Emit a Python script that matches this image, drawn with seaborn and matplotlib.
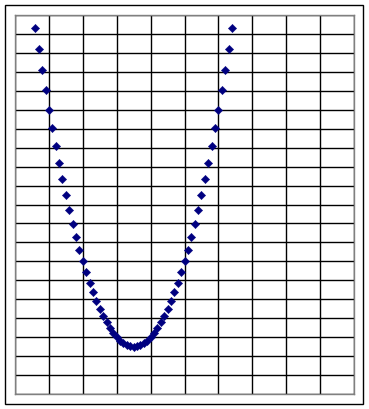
import matplotlib.pyplot as plt
import matplotlib.patches as patches
import seaborn as sns
import pandas as pd

sns.set_style("white")

# points (x step 0.1, one grid cell = 1 unit)
x_vals = [-4.4, -4.3, -4.2, -4.1, -4.0, -3.9, -3.8, -3.7, -3.6, -3.5,
          -3.4, -3.3, -3.2, -3.1, -3.0, -2.9, -2.8, -2.7, -2.6, -2.5,
          -2.4, -2.3, -2.2, -2.1, -2.0, -1.9, -1.8, -1.7, -1.6, -1.5,
          -1.4, -1.3, -1.2, -1.1, -1.0, -0.9, -0.8, -0.7, -0.6, -0.5,
          -0.4, -0.3, -0.2, -0.1, 0.0, 0.1, 0.2, 0.3, 0.4, 0.5,
          0.6, 0.7, 0.8, 0.9, 1.0, 1.1, 1.2, 1.3, 1.4]
y_vals = [19.32, 18.18, 17.08, 16.02, 15.0, 14.02, 13.08, 12.18, 11.32, 10.5,
          9.72, 8.98, 8.28, 7.62, 7.0, 6.42, 5.88, 5.38, 4.92, 4.5,
          4.12, 3.78, 3.48, 3.22, 3.0, 2.82, 2.68, 2.58, 2.52, 2.5,
          2.52, 2.58, 2.68, 2.82, 3.0, 3.22, 3.48, 3.78, 4.12, 4.5,
          4.92, 5.38, 5.88, 6.42, 7.0, 7.62, 8.28, 8.98, 9.72, 10.5,
          11.32, 12.18, 13.08, 14.02, 15.0, 16.02, 17.08, 18.18, 19.32]
x_ticks = list(range(-5, 6))
y_ticks = list(range(0, 21))

df = pd.DataFrame({"x": x_vals, "y": y_vals})

W, H = 369, 409
fig = plt.figure(figsize=(W / 100, H / 100), dpi=100)
fig.patch.set_facecolor("white")

# outer frame of the chart
fig.patches.append(patches.Rectangle((5 / W, 5 / H), 358 / W, 399 / H,
                                     transform=fig.transFigure, fill=False,
                                     edgecolor="black", linewidth=1.0))

ax = fig.add_axes([15 / W, 15 / H, 339 / W, 379 / H])
sns.scatterplot(data=df, x="x", y="y", ax=ax, marker="D", s=18,
                color="#000080", edgecolor="#000080", linewidth=0.3, zorder=3)

ax.set_xlim(-5, 5)
ax.set_ylim(0, 20)
ax.set_xticks(x_ticks)
ax.set_yticks(y_ticks)
ax.grid(True, color="black", linewidth=1.0)
ax.tick_params(length=0, labelbottom=False, labelleft=False)
ax.set_xlabel("")
ax.set_ylabel("")
for sp in ax.spines.values():
    sp.set_color("#808080")
    sp.set_linewidth(1.0)

fig.savefig("out.png", dpi=100)
